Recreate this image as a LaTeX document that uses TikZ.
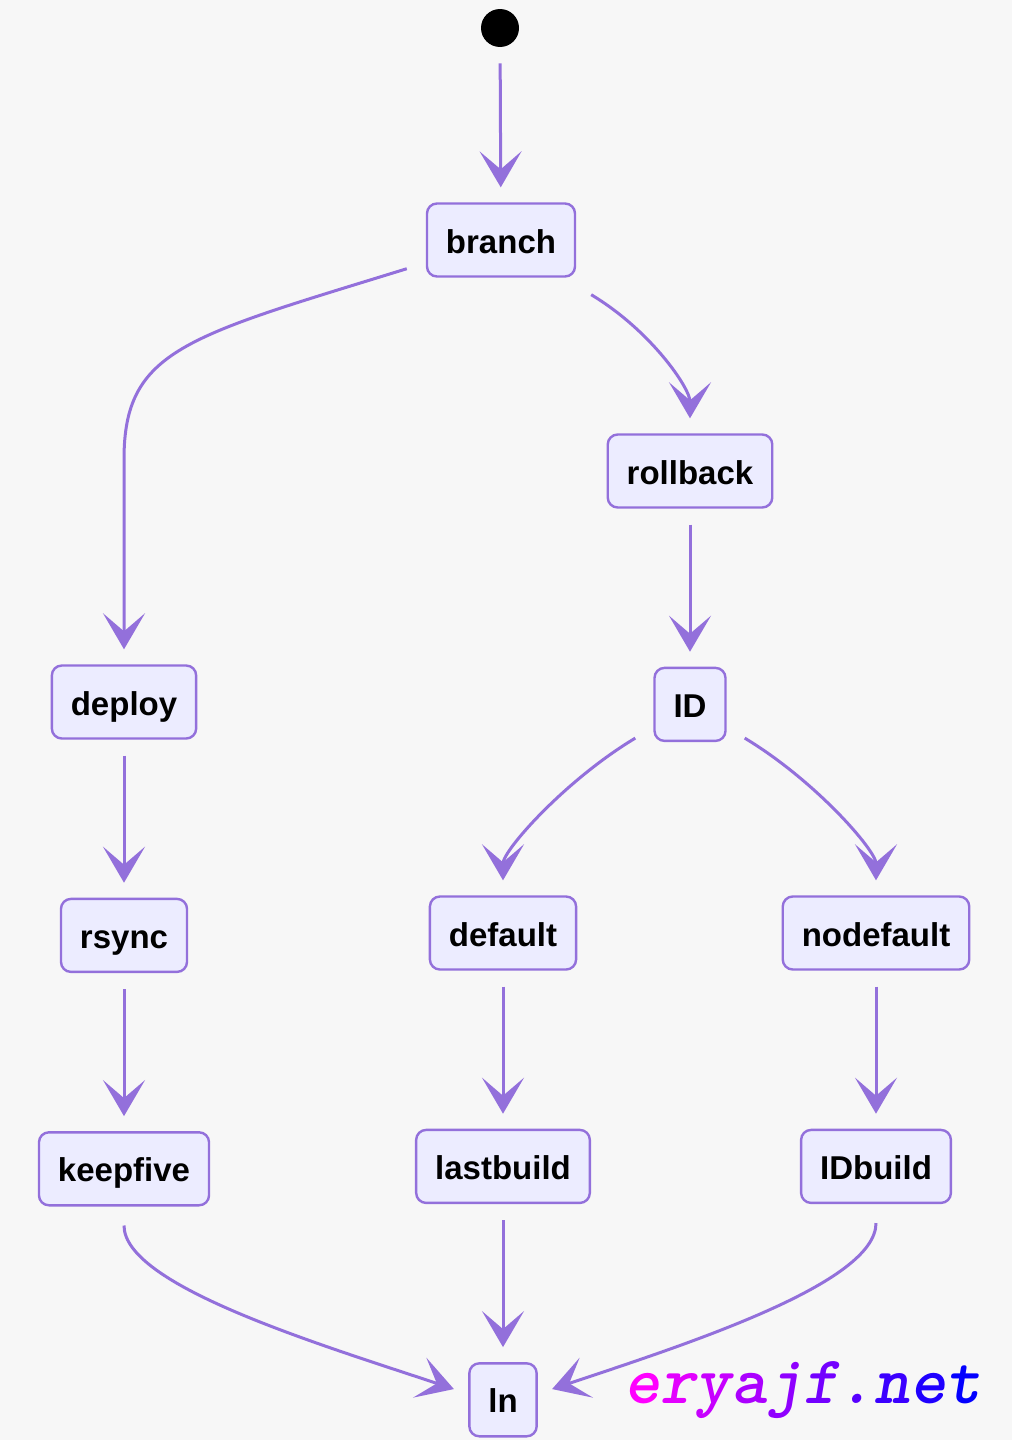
\documentclass[tikz,border=0pt]{standalone}
\usepackage{fontspec}
\setmainfont{Liberation Sans}
\usetikzlibrary{arrows.meta, positioning, calc}
\definecolor{mmline}{HTML}{9370DB}
\definecolor{mmfill}{HTML}{ECECFF}
\definecolor{mmbg}{HTML}{F7F7F7}
\definecolor{wmpink}{HTML}{FF00FF}
\definecolor{wmblue}{HTML}{0000FF}
\newcommand\wmch[2]{\textcolor{wmblue!#1!wmpink}{#2}}

\begin{document}
\begin{tikzpicture}[x=0.5pt, y=-0.5pt, node distance=79pt,
  block/.style={draw=mmline, fill=mmfill, line width=1.2pt, rounded corners=5pt,
    minimum height=36.5pt, inner xsep=9.5pt, text height=14pt, text depth=1pt,
    font=\fontsize{16.5}{20}\selectfont\bfseries},
  flow/.style={draw=mmline, line width=1.5pt,
    -{Stealth[length=18pt, width=21pt, inset=9pt]}, shorten >=7.5pt},
  gap/.style={shorten <=8pt}]
  \fill[mmbg] (0,0) rectangle (1012,1440);
  \useasboundingbox (0,0) rectangle (1012,1440);

  \node[circle, fill=black, minimum size=19pt, inner sep=0pt] (start) at (500,28) {};
  \node[block] (branch) at (501,240) {branch};
  \node[block] (rollback) at (690,471) {rollback};
  \node[block] (deploy) at (124,702) {deploy};
  \node[block, below=of rollback] (id) {ID};
  \node[block, below=of deploy] (rsync) {rsync};
  \node[block] (default) at (503,933) {default};
  \node[block] (nodefault) at (876,933) {nodefault};
  \node[block, below=of rsync] (keepfive) {keepfive};
  \node[block, below=of default] (lastbuild) {lastbuild};
  \node[block, below=of nodefault] (idbuild) {IDbuild};
  \node[block, below=of lastbuild] (ln) {ln};

  % straight links
  \draw[flow, gap] (start) -- (branch);
  \draw[flow, gap] (rollback) -- (id);
  \draw[flow, gap] (deploy) -- (rsync);
  \draw[flow, gap] (rsync) -- (keepfive);
  \draw[flow, gap] (default) -- (lastbuild);
  \draw[flow, gap] (nodefault) -- (idbuild);
  \draw[flow, gap] (lastbuild) -- (ln);

  % curved links
  \draw[flow] ($(branch.south west)+(-19,-9)$) .. controls +(-220,68) and +(0,-110)
     .. ($(deploy.north)+(0,-205)$) -- (deploy.north);
  \draw[flow] ($(branch.south east)+(15,17)$) .. controls +(60,36) and +(0,-45) .. (rollback.north);
  \draw[flow] ($(id.south west)+(-18,-4)$) .. controls +(-70,42) and +(0,-45) .. (default.north);
  \draw[flow] ($(id.south east)+(18,-4)$) .. controls +(70,42) and +(0,-45) .. (nodefault.north);
  \draw[flow] ($(keepfive.south)+(0,19)$) .. controls +(0,60) and +(-150,-50) .. ($(ln.west)+(0,-6)$);
  \draw[flow] ($(idbuild.south)+(0,19)$) .. controls +(0,60) and +(150,-50) .. ($(ln.east)+(0,-6)$);

  \node[font=\ttfamily\itshape\bfseries\fontsize{34}{34}\selectfont, inner sep=0pt] (wmark) at (803,1390)
    {\wmch{0}{e}\wmch{11}{r}\wmch{22}{y}\wmch{33}{a}\wmch{44}{j}\wmch{55}{f}\wmch{66}{.}\wmch{77}{n}\wmch{88}{e}\wmch{99}{t}};
\end{tikzpicture}
\end{document}
